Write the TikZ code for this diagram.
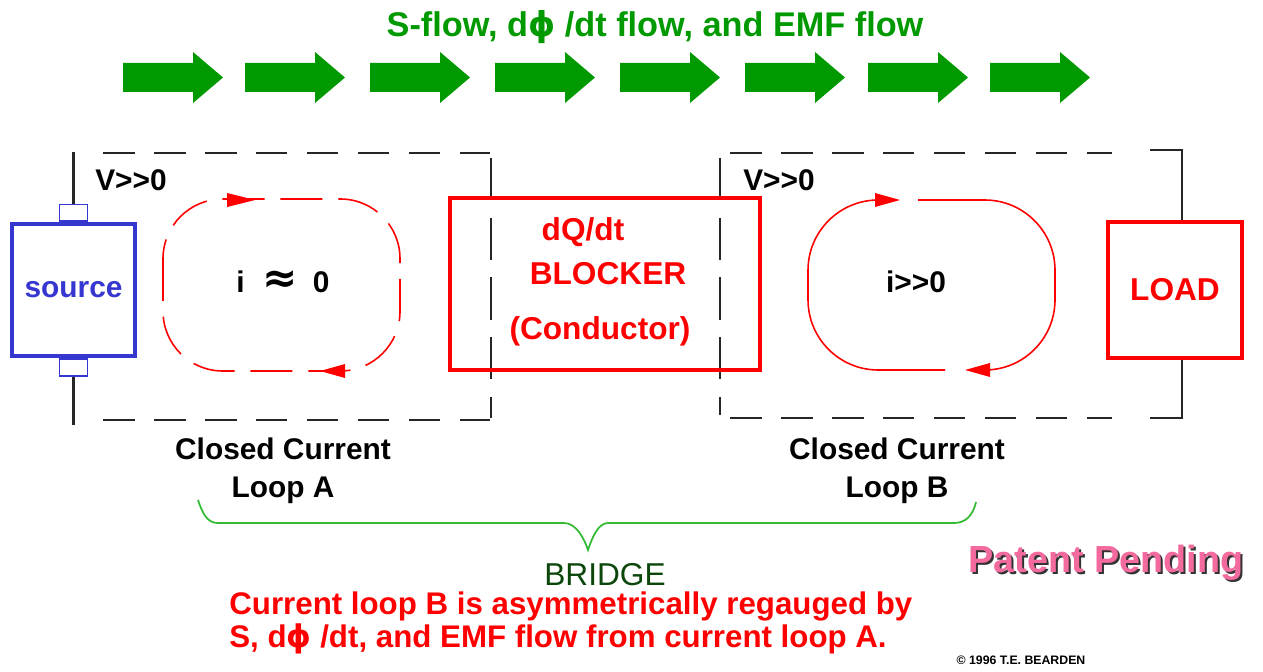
\documentclass[tikz,border=0pt]{standalone}
\usepackage{fontspec}
\setmainfont{Liberation Sans}
\newfontfamily\symfont{DejaVu Sans}
\usepackage{xcolor}
\definecolor{flowgreen}{HTML}{009900}
\definecolor{bracegreen}{HTML}{33BB33}
\definecolor{bridgegreen}{HTML}{0B470B}
\definecolor{srcblue}{HTML}{3636D0}
\definecolor{loopred}{HTML}{FF0000}
\definecolor{pinktxt}{HTML}{F26A9E}
\usepackage{tikz}
\usetikzlibrary{positioning, arrows.meta}

\newcommand{\phisym}{{\symfont\bfseries ϕ}}

\begin{document}
\begin{tikzpicture}[
  x=0.02cm, y=-0.02cm,
  wire/.style={black!85, line width=1.2pt},
  hdash/.style={wire, dash pattern=on 18pt off 11pt},
  vdash/.style={wire, dash pattern=on 24pt off 10pt},
  lbl/.style={font=\bfseries\fontsize{17}{21.5}\selectfont, inner sep=0pt},
  redtxt/.style={lbl, text=loopred, font=\bfseries\fontsize{18}{21}\selectfont},
  redbox/.style={draw=loopred, line width=2.3pt, text=loopred, font=\bfseries\fontsize{18}{21}\selectfont},
  term/.style={draw=srcblue, line width=1pt, minimum width=0.56cm, minimum height=0.34cm, inner sep=0pt},
  loopline/.style={loopred, line width=0.9pt},
  pinkfont/.style={font=\bfseries\fontsize{21.5}{24}\selectfont, inner sep=0pt}
]
  \useasboundingbox (0,0) rectangle (1263,672);

  % flow arrows
  \node[lbl, text=flowgreen, font=\bfseries\fontsize{19.5}{22}\selectfont] (title) at (655,27) {S-flow, d\phisym{} /dt flow, and EMF flow};
  \foreach \x in {123,245,370,495,620,745,868,990}
    \fill[flowgreen] (\x,63) -- ++(70,0) -- ++(0,-11) -- ++(30,25.5) -- ++(-30,25.5) -- ++(0,-11) -- ++(-70,0) -- cycle;

  % dashed loop boxes
  \draw[hdash] (103,153) -- (490,153);
  \draw[hdash] (103,420) -- (490,420);
  \draw[vdash] (491,158) -- (491,418);
  \draw[hdash] (730,153) -- (1112,153);
  \draw[hdash] (730,418) -- (1112,418);
  \draw[vdash] (720,158) -- (720,415);

  % source
  \node[draw=srcblue, line width=2pt, minimum width=2.46cm, minimum height=2.64cm,
        text=srcblue, font=\bfseries\fontsize{17}{20}\selectfont] (src) at (73.5,290) {source};
  \node[term, above=0pt of src] (srctop) {};
  \node[term, below=0pt of src] (srcbot) {};
  \coordinate (wiretop) at (76,152);
  \coordinate (wirebot) at (76,425);
  \draw[wire] (srctop.north) -- (srctop.north |- wiretop);
  \draw[wire] (srcbot.south) -- (srcbot.south |- wirebot);

  % blocker and load
  \node[redbox, minimum width=6.2cm, minimum height=3.44cm] (blocker) at (605,284) {};
  \node[redtxt] (dqdt) at (583,232) {dQ/dt};
  \node[redtxt] (blk) at (608,274) {BLOCKER};
  \node[redtxt] (cond) at (600,331) {(Conductor)};
  \node[redbox, minimum width=2.68cm, minimum height=2.72cm] (load) at (1175,290) {LOAD};
  \coordinate (ltop) at (1182,150);
  \coordinate (ltopend) at (1150,150);
  \coordinate (lbot) at (1182,418);
  \coordinate (lbotend) at (1150,418);
  \draw[wire] (load.north -| ltop) -- (ltop) -- (ltopend);
  \draw[wire] (load.south -| lbot) -- (lbot) -- (lbotend);

  % current loops
  \draw[loopline, dash pattern=on 24pt off 9pt, rounded corners=34pt] (163,199) rectangle (400,371);
  \fill[loopred] (227,193) -- (255,200) -- (227,207) -- cycle;
  \fill[loopred] (345,364) -- (320,371) -- (345,378) -- cycle;
  \draw[loopline, rounded corners=40pt] (918,200) -| (1055,370) -- (990,370);
  \draw[loopline, rounded corners=40pt] (945,370) -| (808,200) -- (875,200);
  \fill[loopred] (875,193) -- (900,200) -- (875,207) -- cycle;
  \fill[loopred] (990,363) -- (965,370) -- (990,377) -- cycle;

  \node[lbl] (vA) at (131,180) {V>{}>0};
  \node[lbl] (vB) at (779,180) {V>{}>0};
  \node[lbl] (curA) at (283,282) {i\hspace{0.6em}{\symfont\bfseries\fontsize{24}{24}\selectfont ≈}\hspace{0.5em}0};
  \node[lbl] (curB) at (916,282) {i>{}>0};

  \node[lbl, align=center] (capA) at (283,471) {Closed Current\\Loop A};
  \node[lbl, align=center] (capB) at (897,471) {Closed Current\\Loop B};

  % bridge brace
  \draw[bracegreen, line width=1pt] (198,500) .. controls (203,515) and (208,523) .. (218,523)
    -- (564,523) .. controls (576,523) and (584,538) .. (588,550)
    .. controls (592,538) and (598,523) .. (608,523)
    -- (954,523) .. controls (966,523) and (973,515) .. (976,502);
  \node[lbl, text=bridgegreen, font=\fontsize{18}{21}\selectfont] (bridge) at (605,575) {BRIDGE};
  \node[redtxt, align=left, anchor=west, font=\bfseries\fontsize{17.8}{19}\selectfont] (note) at (229,623)
    {Current loop B is asymmetrically regauged by\\S, d\phisym{} /dt, and EMF flow from current loop A.};

  \node[pinkfont, text=black!80] (patentsh) at (1108,565) {Patent Pending};
  \node[pinkfont, text=pinktxt] (patent) at (1106,563) {Patent Pending};
  \node[font=\bfseries\fontsize{7}{8}\selectfont] (copy) at (1021,660) {© 1996 T.E. BEARDEN};
\end{tikzpicture}
\end{document}
